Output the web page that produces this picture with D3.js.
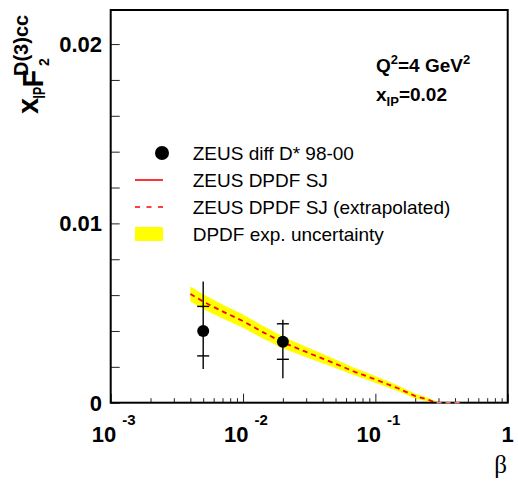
<!DOCTYPE html>
<html>
<head>
<meta charset="utf-8">
<script src="https://cdn.jsdelivr.net/npm/d3@7"></script>
<style>
  html, body { margin: 0; padding: 0; background: #fff; }
  svg { display: block; }
  text { font-family: "Liberation Sans", Arial, Helvetica, sans-serif; fill: #000; }
</style>
</head>
<body>
<svg id="chart" width="518" height="484"></svg>
<script>
// ZEUS diffractive D* measurement, Q^2 = 4 GeV^2, x_IP = 0.02
const dataBeta   = [0.005, 0.02];
const dataF2     = [0.0040, 0.0034];
const statHigh   = [0.00537, 0.00440];
const statLow    = [0.00261, 0.00242];
const totalHigh  = [0.00676, 0.00462];
const totalLow   = [0.00188, 0.00136];

// ZEUS DPDF SJ prediction (extrapolated) and its experimental uncertainty
const curveBeta  = [0.004, 0.005, 0.007, 0.01, 0.014, 0.02, 0.03, 0.05, 0.07, 0.1, 0.15, 0.2, 0.25, 0.29];
const curveF2    = [0.00606, 0.00564, 0.00509, 0.00455, 0.00395, 0.00336, 0.00283, 0.00217, 0.00172, 0.00130, 0.00079, 0.00037, 0.00017, 0.0];
const curveErr   = [0.00042, 0.00041, 0.00039, 0.00037, 0.00035, 0.00033, 0.00029, 0.00024, 0.00021, 0.00019, 0.00016, 0.00013, 0.00010, 0.00006];
const tailBeta   = [0.29, 0.44];
const tailF2     = [0.0, 0.0];

// Axis ticks and labels
const xMajor     = [0.001, 0.01, 0.1, 1];
const xMantissa  = ["10", "10", "10", "1"];
const xExponent  = ["-3", "-2", "-1", ""];
const yTicks     = [0, 0.002, 0.004, 0.006, 0.008, 0.01, 0.012, 0.014, 0.016, 0.018, 0.02];
const yLabelVals = [0, 0.01, 0.02];
const yLabelText = ["0", "0.01", "0.02"];

const legendLabels = ["ZEUS diff D* 98-00", "ZEUS DPDF SJ", "ZEUS DPDF SJ (extrapolated)", "DPDF exp. uncertainty"];

const svg = d3.select("#chart");
const frame = { left: 110.7, right: 507.7, top: 10, bottom: 402.7 };

const x = d3.scaleLog().domain([1e-3, 1]).range([frame.left, frame.right]);
const y = d3.scaleLinear().domain([0, 0.0219]).range([frame.bottom, frame.top]);

svg.append("defs").append("clipPath").attr("id", "plotClip")
  .append("rect")
  .attr("x", frame.left).attr("y", frame.top)
  .attr("width", frame.right - frame.left).attr("height", frame.bottom - frame.top);

const plot = svg.append("g").attr("clip-path", "url(#plotClip)");

// uncertainty band
const bandData = curveBeta.map((b, i) => ({ b, lo: Math.max(0, curveF2[i] - curveErr[i]), hi: curveF2[i] + curveErr[i] }));
plot.append("path")
  .datum(bandData)
  .attr("fill", "#ffff00")
  .attr("stroke", "none")
  .attr("d", d3.area().x(d => x(d.b)).y0(d => y(d.lo)).y1(d => y(d.hi)));

// axes: ticks point into the frame
const minorX = [];
for (let e = -3; e < 0; e++) for (let m = 2; m <= 9; m++) minorX.push(m * Math.pow(10, e));

svg.append("g")
  .attr("transform", `translate(0,${frame.bottom})`)
  .call(d3.axisBottom(x).tickValues(minorX).tickSize(-4.5).tickFormat(""))
  .call(g => g.select(".domain").remove())
  .call(g => g.selectAll("line").attr("stroke", "#222").attr("stroke-width", 1));

svg.append("g")
  .attr("transform", `translate(0,${frame.bottom})`)
  .call(d3.axisBottom(x).tickValues(xMajor).tickSize(-9).tickFormat(""))
  .call(g => g.select(".domain").remove())
  .call(g => g.selectAll("line").attr("stroke", "#222").attr("stroke-width", 1));

svg.append("g")
  .attr("transform", `translate(${frame.left},0)`)
  .call(d3.axisLeft(y).tickValues(yTicks).tickSize(-9).tickFormat(""))
  .call(g => g.select(".domain").remove())
  .call(g => g.selectAll("line").attr("stroke", "#222").attr("stroke-width", 1));

// frame
svg.append("rect")
  .attr("x", frame.left).attr("y", frame.top)
  .attr("width", frame.right - frame.left).attr("height", frame.bottom - frame.top)
  .attr("fill", "none").attr("stroke", "#000").attr("stroke-width", 2);

// prediction curve
const curveData = curveBeta.map((b, i) => ({ b, v: curveF2[i] }));
const line = d3.line().x(d => x(d.b)).y(d => y(d.v));
svg.append("path")
  .datum(tailBeta.map((b, i) => ({ b, v: tailF2[i] })))
  .attr("fill", "none").attr("stroke", "#f08080").attr("stroke-width", 1.8)
  .attr("stroke-dasharray", "5,4").attr("d", line);
plot.append("path")
  .datum(curveData)
  .attr("fill", "none").attr("stroke", "#ff0000").attr("stroke-width", 1.8)
  .attr("stroke-dasharray", "5,4").attr("d", line);

// data points with error bars
const pts = dataBeta.map((b, i) => ({ b, v: dataF2[i], sh: statHigh[i], sl: statLow[i], th: totalHigh[i], tl: totalLow[i] }));
const pg = svg.append("g");
pts.forEach(d => {
  const cx = x(d.b);
  pg.append("line").attr("x1", cx).attr("x2", cx).attr("y1", y(d.th)).attr("y2", y(d.tl))
    .attr("stroke", "#000").attr("stroke-width", 1.4);
  [d.sh, d.sl].forEach(s => {
    pg.append("line").attr("x1", cx - 6).attr("x2", cx + 6).attr("y1", y(s)).attr("y2", y(s))
      .attr("stroke", "#000").attr("stroke-width", 1.4);
  });
  pg.append("circle").attr("cx", cx).attr("cy", y(d.v)).attr("r", 6).attr("fill", "#000");
});

// tick labels
xMajor.forEach((v, i) => {
  const t = svg.append("text")
    .attr("x", x(v) + (xExponent[i] ? 3 : 0)).attr("y", 441.5)
    .attr("text-anchor", "middle")
    .attr("font-weight", "bold").attr("font-size", 22);
  t.append("tspan").text(xMantissa[i]);
  if (xExponent[i]) {
    t.append("tspan").attr("dx", 6).attr("dy", -17).attr("font-size", 15).text(xExponent[i]);
  }
});
yLabelVals.forEach((v, i) => {
  svg.append("text")
    .attr("x", 102).attr("y", y(v) + 8)
    .attr("text-anchor", "end")
    .attr("font-weight", "bold").attr("font-size", 22)
    .text(yLabelText[i]);
});

// axis titles
svg.append("text")
  .attr("x", 507).attr("y", 473)
  .attr("text-anchor", "end")
  .style("font-family", "'Liberation Serif', 'Times New Roman', serif")
  .attr("font-size", 25)
  .text("β");

function rotatedPiece(str, bx, by, size, len) {
  const t = svg.append("text")
    .attr("transform", `translate(${bx},${by}) rotate(-90)`)
    .attr("font-weight", "bold").attr("font-size", size)
    .text(str);
  if (len) t.attr("textLength", len).attr("lengthAdjust", "spacingAndGlyphs");
}
rotatedPiece("x", 38, 114, 29);
rotatedPiece("IP", 45, 98.5, 16, 11.5);
rotatedPiece("F", 43, 87.5, 29);
rotatedPiece("2", 49, 66, 14);
rotatedPiece("D(3)cc", 28, 76, 20);

// kinematic annotation
const q = svg.append("text").attr("x", 376).attr("y", 71.7).attr("font-weight", "bold").attr("font-size", 19);
q.append("tspan").text("Q");
q.append("tspan").attr("dy", -8).attr("font-size", 13).text("2");
q.append("tspan").attr("dy", 8).text("=4 GeV");
q.append("tspan").attr("dy", -8).attr("font-size", 13).text("2");

const xp = svg.append("text").attr("x", 376).attr("y", 101).attr("font-weight", "bold").attr("font-size", 19);
xp.append("tspan").text("x");
xp.append("tspan").attr("dy", 5).attr("font-size", 13).text("IP");
xp.append("tspan").attr("dy", -5).text("=0.02");

// legend
const legY = [153, 180, 207, 234];
const lg = svg.append("g");
lg.append("circle").attr("cx", 162).attr("cy", legY[0]).attr("r", 7).attr("fill", "#000");
lg.append("line").attr("x1", 135).attr("x2", 163).attr("y1", legY[1]).attr("y2", legY[1])
  .attr("stroke", "#ff0000").attr("stroke-width", 1.6);
lg.append("line").attr("x1", 135).attr("x2", 163).attr("y1", legY[2]).attr("y2", legY[2])
  .attr("stroke", "#ff0000").attr("stroke-width", 1.6).attr("stroke-dasharray", "5,6.5");
lg.append("rect").attr("x", 135).attr("y", legY[3] - 7).attr("width", 28).attr("height", 14)
  .attr("fill", "#ffff00");
legendLabels.forEach((s, i) => {
  lg.append("text").attr("x", 192.7).attr("y", legY[i] + 7)
    .attr("font-size", 19).text(s);
});
</script>
</body>
</html>
